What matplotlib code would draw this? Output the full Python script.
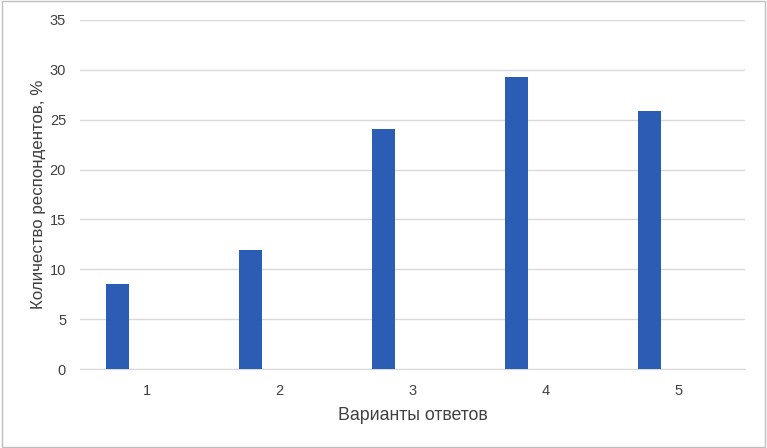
import numpy as np
import matplotlib.pyplot as plt
from matplotlib.patches import Rectangle

# варианты ответов и доля респондентов, %
variants = ['1', '2', '3', '4', '5']
shares = [8.5, 11.9, 24.1, 29.3, 25.9]

plt.rcParams['font.family'] = ['Liberation Sans', 'DejaVu Sans']

fig = plt.figure(figsize=(7.67, 4.48), dpi=100)
ax = fig.add_axes([0.1043, 0.1763, 0.8670, 0.7791])

x = np.arange(len(variants))
ax.bar(x - 0.22, shares, width=0.175, color='#2B5DB5', zorder=3)

ax.set_xlim(-0.5, len(variants) - 0.5)
ax.set_ylim(0, 35)
ax.set_yticks(np.arange(0, 36, 5))
ax.set_xticks(x)
ax.set_xticklabels(variants)

ax.grid(axis='y', color='#D9D9D9', linewidth=1, zorder=0)
for s in ['top', 'right', 'left']:
    ax.spines[s].set_visible(False)
ax.spines['bottom'].set_color('#D9D9D9')
ax.tick_params(axis='both', length=0, labelsize=10.5, colors='#404040', pad=11)
ax.tick_params(axis='y', pad=10)

ax.set_xlabel('Варианты ответов', fontsize=12.8, color='#404040', labelpad=6)
ax.set_ylabel('Количество респондентов, %', fontsize=12.2, color='#404040', labelpad=3)

fig.patches.append(Rectangle((0.002, 0.003), 0.996, 0.994, transform=fig.transFigure,
                             fill=False, edgecolor='#BFBFBF', linewidth=1))

fig.savefig('out.png', dpi=100)
